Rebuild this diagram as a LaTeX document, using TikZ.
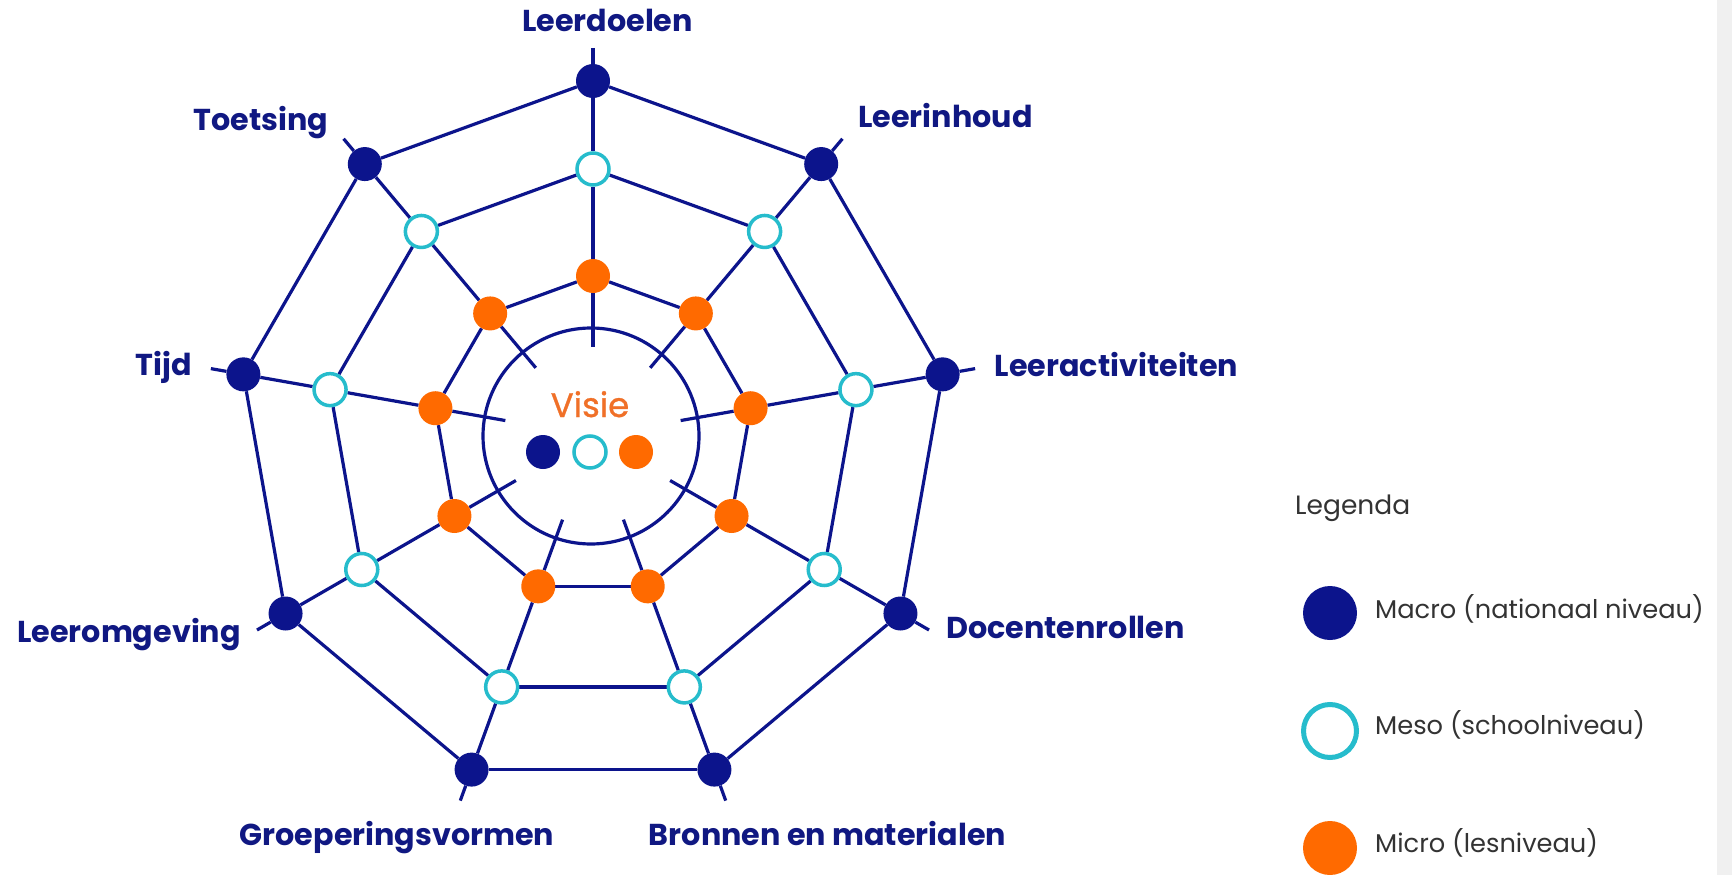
\documentclass[tikz,border=0pt]{standalone}
\usepackage{fontspec}
\setmainfont{Poppins}
\newfontfamily\visiefont{Poppins}[FakeBold=0.9]
\definecolor{navy}{RGB}{12,20,140}
\definecolor{labnavy}{RGB}{16,24,130}
\definecolor{mesocyan}{RGB}{38,188,204}
\definecolor{microorange}{RGB}{255,106,0}
\definecolor{visieorange}{RGB}{240,112,40}
\definecolor{legtext}{RGB}{51,51,51}
\definecolor{stripgray}{RGB}{240,240,240}
\pgfdeclarelayer{bg}
\pgfdeclarelayer{lines}
\pgfsetlayers{bg,lines,main}
\begin{document}
\begin{tikzpicture}[x=1pt,y=1pt,
  macro/.style={circle, fill=navy, inner sep=0pt, minimum size=34},
  meso/.style={circle, draw=mesocyan, line width=3.5, fill=white, inner sep=0pt, minimum size=32},
  micro/.style={circle, fill=microorange, inner sep=0pt, minimum size=34},
  web/.style={draw=navy, line width=3.2},
  lab/.style={text=labnavy, font=\bfseries\fontsize{30.2}{32}\selectfont, anchor=base, inner sep=0pt},
  legtxt/.style={text=legtext, font=\fontsize{25.7}{30}\selectfont, anchor=base west, inner sep=0pt},
]
\begin{pgfonlayer}{bg}
  \fill[white] (0,0) rectangle (1732,-875);
  \fill[stripgray] (1717,0) rectangle (1732,-875);
\end{pgfonlayer}
\useasboundingbox (0,0) rectangle (1732,-875);

\coordinate (C) at (593,-436);
\foreach \i in {1,...,9} {
  \pgfmathsetmacro\ang{90-40*(\i-1)}
  \coordinate (T\i) at ([shift={(\ang:388)}]C);
  \coordinate (I\i) at ([shift={(\ang:89)}]C);
  \node[macro] (M\i) at ([shift={(\ang:355)}]C) {};
  \node[meso] (S\i) at ([shift={(\ang:267)}]C) {};
  \node[micro] (m\i) at ([shift={(\ang:160)}]C) {};
}
\begin{pgfonlayer}{lines}
\foreach \i in {1,...,9} {
  \pgfmathtruncatemacro\j{mod(\i,9)+1}
  \draw[web] (T\i) -- (M\i) -- (S\i) -- (m\i) -- (I\i);
  \draw[web] (M\i) -- (M\j);
  \draw[web] (S\i) -- (S\j);
  \draw[web] (m\i) -- (m\j);
}
\end{pgfonlayer}

\node[circle, draw=navy, line width=3.2, minimum size=216, inner sep=0pt] (ring) at (591,-436) {};
\node[text=visieorange, font=\visiefont\fontsize{34}{36}\selectfont, anchor=base, inner sep=0pt] (visie) at (590,-417) {Visie};
\node[macro] (vd1) at (543,-452) {};
\node[meso] (vd2) at (590,-452) {};
\node[micro] (vd3) at (636,-452) {};

\node[lab] (L1) at (607.5,-32) {Leerdoelen};
\node[lab] (L2) at (945.5,-127) {Leerinhoud};
\node[lab] (L3) at (1116.5,-376) {Leeractiviteiten};
\node[lab] (L4) at (1065.5,-638) {Docentenrollen};
\node[lab] (L5) at (827.5,-845) {Bronnen en materialen};
\node[lab] (L6) at (397,-845) {Groeperingsvormen};
\node[lab] (L7) at (129,-642) {Leeromgeving};
\node[lab] (L8) at (164,-375) {Tijd};
\node[lab] (L9) at (261,-130) {Toetsing};

\node[text=legtext, font=\fontsize{26.5}{30}\selectfont, anchor=base west, inner sep=0pt] (legtitle) at (1295,-514) {Legenda};
\node[circle, fill=navy, minimum size=54, inner sep=0pt] (lg1) at (1330,-613) {};
\node[circle, draw=mesocyan, line width=5, fill=white, minimum size=53, inner sep=0pt] (lg2) at (1330,-731) {};
\node[circle, fill=microorange, minimum size=54, inner sep=0pt] (lg3) at (1330,-848) {};
\node[legtxt] (lt1) at (1375,-618) {Macro (nationaal niveau)};
\node[legtxt] (lt2) at (1375,-734) {Meso (schoolniveau)};
\node[legtxt] (lt3) at (1375,-852) {Micro (lesniveau)};
\end{tikzpicture}
\end{document}
